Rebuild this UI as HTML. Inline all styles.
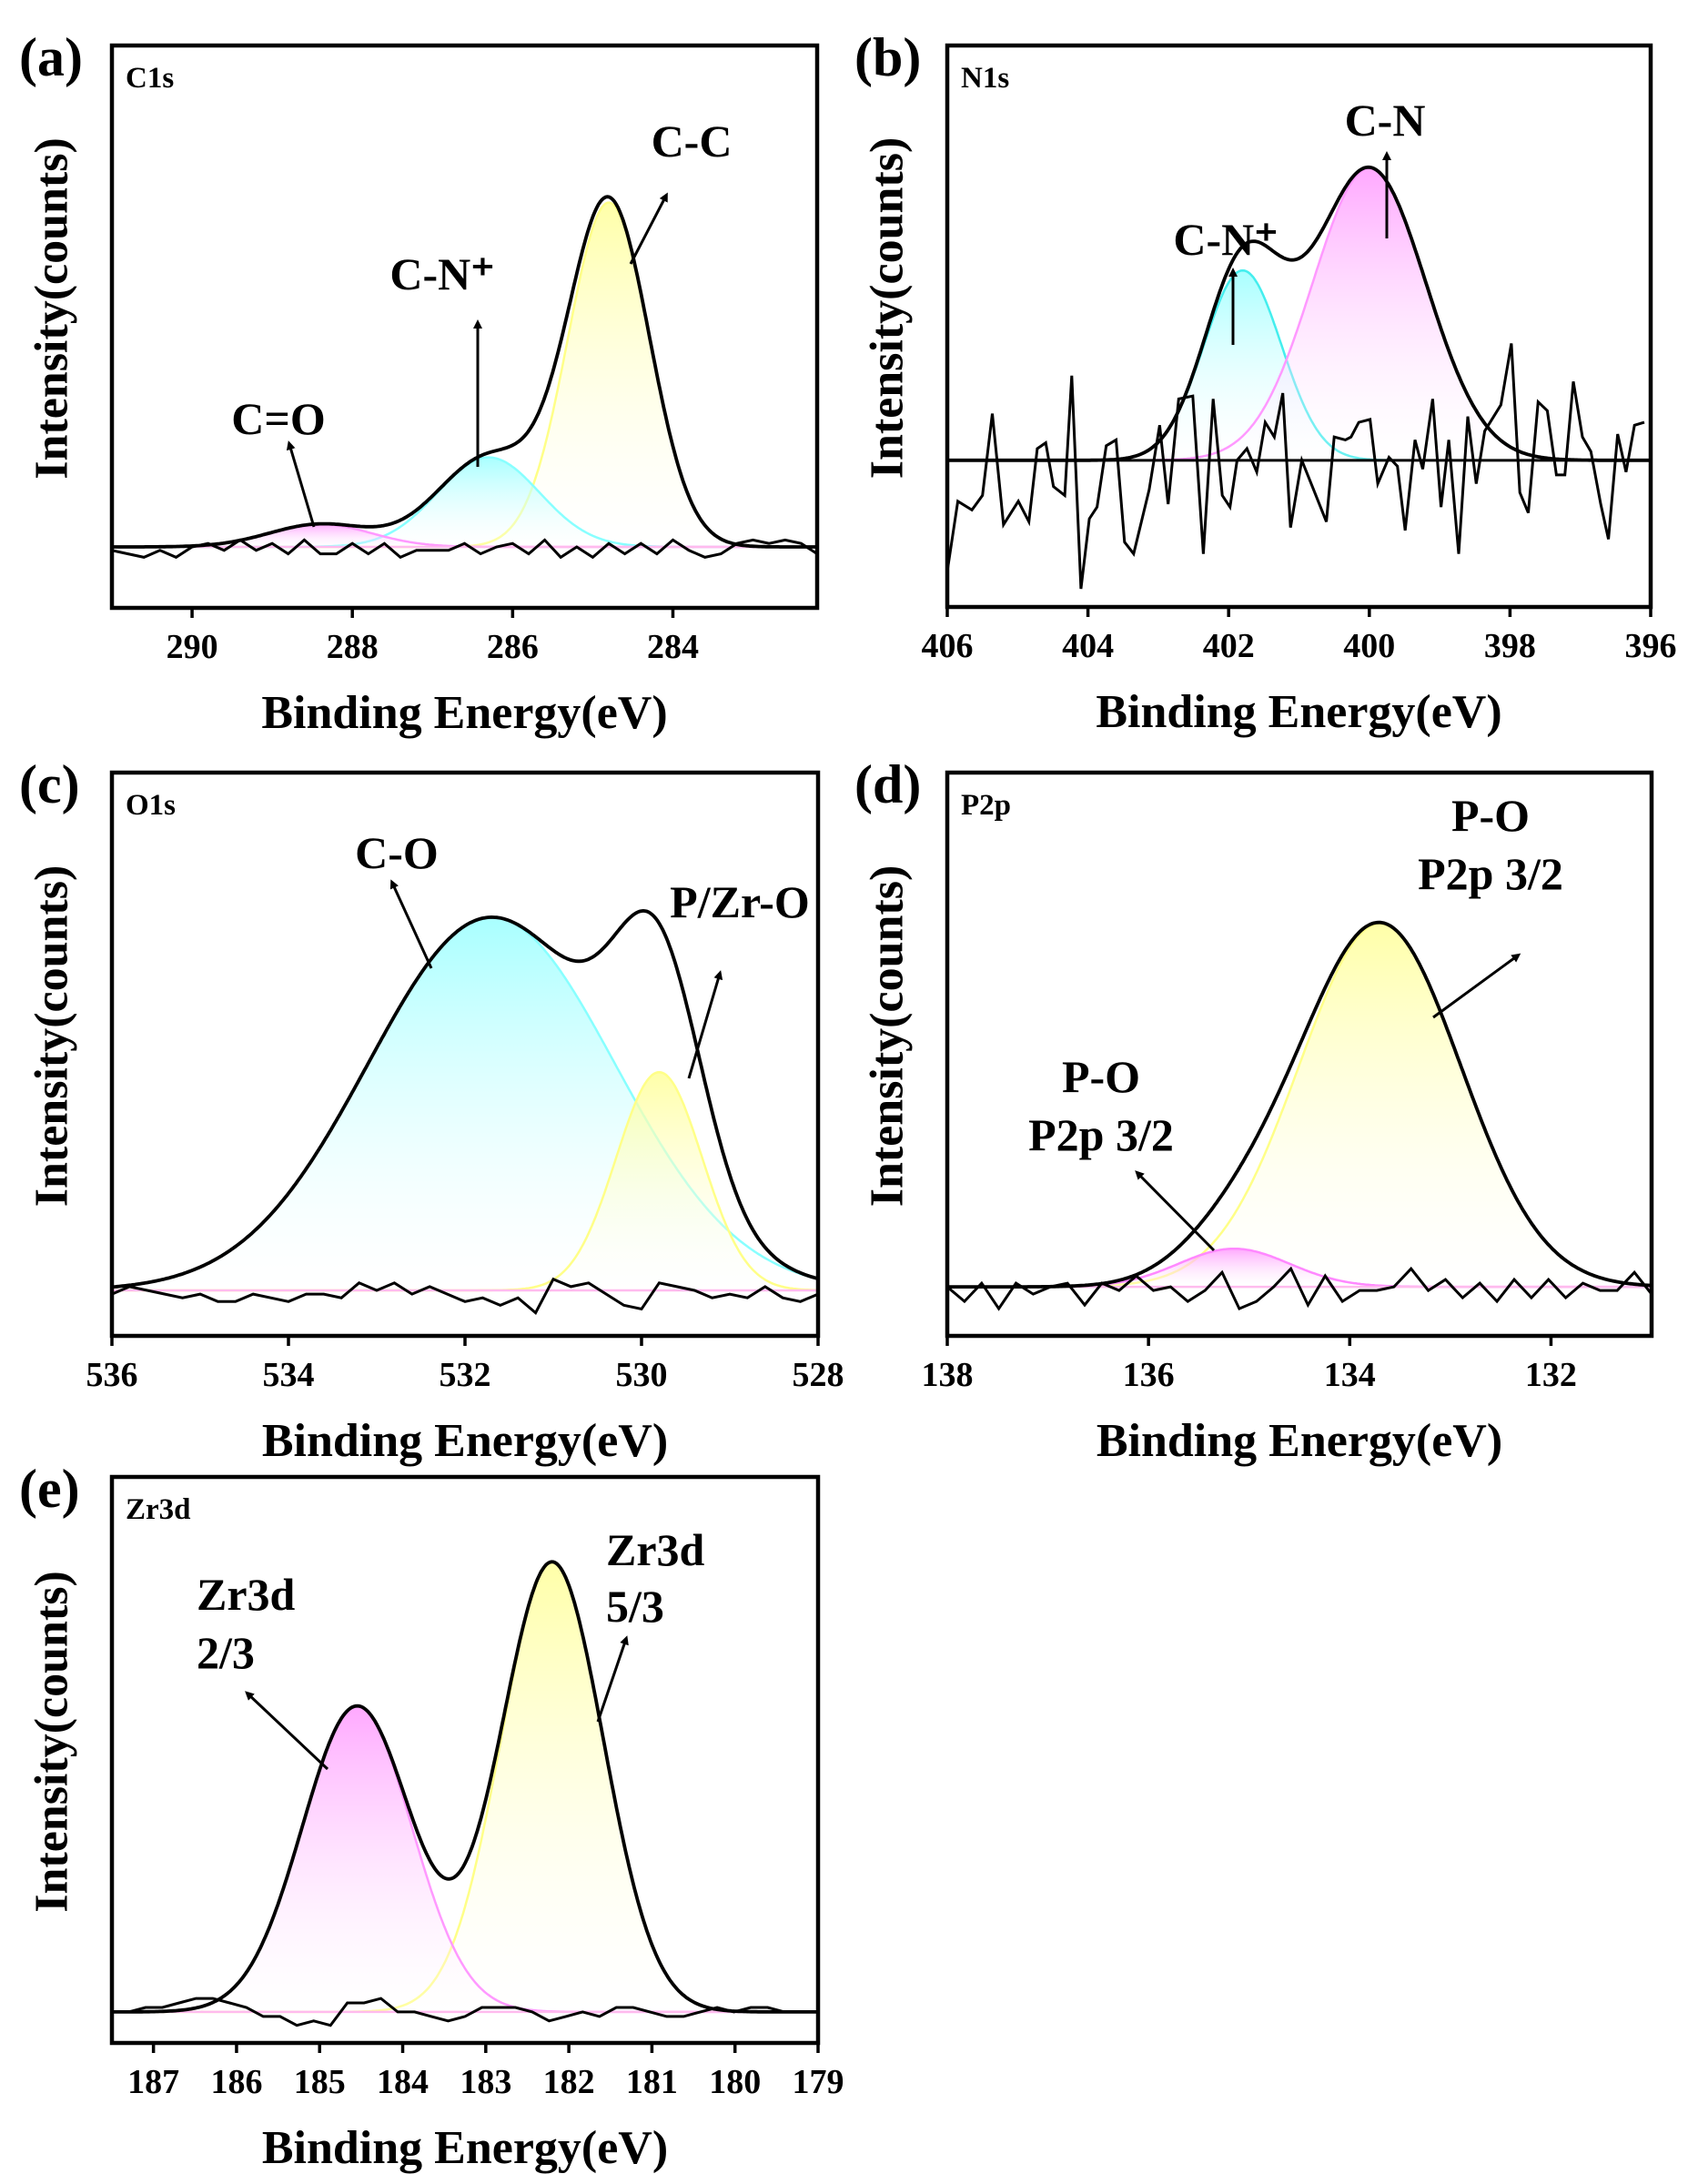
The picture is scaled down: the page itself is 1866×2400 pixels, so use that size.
<!DOCTYPE html>
<html><head><meta charset="utf-8">
<style>
html,body{margin:0;padding:0;background:#fff;}
svg{display:block;}
text{font-family:"Liberation Serif",serif;font-weight:bold;fill:#000;}
</style></head>
<body>
<svg id="fig" width="1866" height="2400" viewBox="0 0 1866 2400" xmlns="http://www.w3.org/2000/svg">
<defs>
  <marker id="arr" markerWidth="10" markerHeight="10" refX="6" refY="5" orient="auto" markerUnits="userSpaceOnUse">
    <path d="M0,0 L10,5 L0,10 Z" fill="#000"/>
  </marker>
  <linearGradient id="gY" x1="0" y1="0" x2="0" y2="1"><stop offset="0" stop-color="#ffff99" stop-opacity="0.85"/><stop offset="1" stop-color="#ffffff" stop-opacity="0.2"/></linearGradient>
  <linearGradient id="gC" x1="0" y1="0" x2="0" y2="1"><stop offset="0" stop-color="#99ffff" stop-opacity="0.85"/><stop offset="1" stop-color="#ffffff" stop-opacity="0.2"/></linearGradient>
  <linearGradient id="gP" x1="0" y1="0" x2="0" y2="1"><stop offset="0" stop-color="#ff99ff" stop-opacity="0.85"/><stop offset="1" stop-color="#ffffff" stop-opacity="0.2"/></linearGradient>
</defs>
<g id="root"></g>
</svg>
<script>
// ---------- data ----------
// (a) C1s
const aCenters = [284.8, 286.3, 288.4];
const aHeights = [100, 26, 6.6];
const aFwhm = [1.2, 1.5, 1.5];
const aTicks = [290, 288, 286, 284];
const aResidual = [-1,-2,-3,-1,-3,0,1,-1,2,-1,1,-2,2,-2,-2,1,-2,1,-3,-1,-1,-1,1,-2,0,1,-2,2,-3,0,-3,1,-2,1,-2,2,-1,-3,-2,1,2,1,2,1,-2];
// (b) N1s
const bCenters = [401.8, 400.0];
const bHeights = [65, 100];
const bFwhm = [1.3, 1.9];
const bTicks = [406, 404, 402, 400, 398, 396];
const bResidualX = [406.0,405.85,405.65,405.5,405.36,405.2,404.99,404.84,404.72,404.6,404.49,404.33,404.23,404.1,403.98,403.87,403.74,403.6,403.48,403.35,403.13,402.98,402.86,402.71,402.51,402.36,402.22,402.09,401.98,401.88,401.74,401.6,401.48,401.35,401.23,401.12,400.96,400.81,400.61,400.5,400.34,400.26,400.15,399.99,399.88,399.72,399.6,399.49,399.35,399.24,399.1,398.98,398.87,398.73,398.6,398.48,398.36,398.13,397.98,397.86,397.74,397.6,397.47,397.34,397.22,397.1,396.97,396.85,396.71,396.6,396.47,396.35,396.23,396.09];
const bResidual = [-38,-14,-17,-12,16,-22,-14,-21,4,6,-9,-12,29,-44,-20,-16,5,7,-28,-32,-10,12,-15,21,22,-32,21,-12,-16,0,4,-4,13,8,23,-23,0,-9,-21,8,7,8,13,14,-8,1,-2,-24,7,-3,21,-16,7,-32,15,-8,10,19,40,-11,-18,20,17,-5,-5,27,8,3,-15,-27,9,-4,12,13];
// (c) O1s
const cCenters = [531.7, 529.8];
const cHeights = [100, 58.5];
const cFwhm = [3.3, 1.15];
const cTicks = [536, 534, 532, 530, 528];
const cResidual = [-1,1,0,-1,-2,-1,-3,-3,-1,-2,-3,-1,-1,-2,2,0,2,-1,1,-1,-3,-2,-4,-2,-6,3,1,2,-1,-4,-5,2,1,0,-2,-1,-2,1,-2,-3,-1];
// (d) P2p
const dCenters = [133.7, 135.15];
const dHeights = [100, 10.5];
const dFwhm = [1.9, 1.3];
const dTicks = [138, 136, 134, 132];
const dResidual = [0,-4,1,-6,1,-2,0,1,-5,1,-1,3,-1,0,-4,-1,4,-6,-4,0,5,-5,3,-4,-1,-1,0,5,-1,2,-3,1,-4,2,-3,2,-3,1,-1,-1,4,-2];
// (e) Zr3d
const eCenters = [182.2, 184.55];
const eHeights = [100, 68];
const eFwhm = [1.45, 1.55];
const eTicks = [187, 186, 185, 184, 183, 182, 181, 180, 179];
const eResidual = [0,0,1,1,2,3,3,2,1,-1,-1,-3,-2,-3,2,2,3,0,0,-1,-2,-1,1,1,1,0,-2,-1,0,-1,1,1,0,-1,-1,0,1,0,1,1,0,0,0];

// ---------- drawing ----------
const NS = 'http://www.w3.org/2000/svg';
const root = document.getElementById('root');
function mk(tag, attrs, parent){
  const e = document.createElementNS(NS, tag);
  for (const k in attrs) e.setAttribute(k, attrs[k]);
  (parent||root).appendChild(e);
  return e;
}
function txt(parent, x, y, s, size, anchor){
  const t = mk('text', {x:x, y:y, 'font-size':size, 'text-anchor':anchor||'start'}, parent);
  t.textContent = s;
  return t;
}
function gauss(x, c, h, w){ return h*Math.exp(-4*Math.LN2*Math.pow((x-c)/w,2)); }

const panels = [
  {id:'a', label:'(a)', core:'C1s', x0:123,x1:898,y0:50,y1:668, dom:[291,282.2], yd:[-17.7,145.6],
   centers:aCenters, heights:aHeights, fwhm:aFwhm, ticks:aTicks, res:aResidual, resX:null,
   cols:[['#ffff88','url(#gY)'],['#88ffff','url(#gC)'],['#ff99ff','url(#gP)']], baseBlack:false},
  {id:'b', label:'(b)', core:'N1s', x0:1041,x1:1814,y0:50,y1:667, dom:[406,396], yd:[-50.2,142],
   centers:bCenters, heights:bHeights, fwhm:bFwhm, ticks:bTicks, res:bResidual, resX:bResidualX,
   cols:[['#44eeee','url(#gC)'],['#ff99ff','url(#gP)']], baseBlack:true},
  {id:'c', label:'(c)', core:'O1s', x0:123,x1:899,y0:849,y1:1468, dom:[536,528], yd:[-12.2,138.8],
   centers:cCenters, heights:cHeights, fwhm:cFwhm, ticks:cTicks, res:cResidual, resX:null,
   cols:[['#88ffff','url(#gC)'],['#ffff88','url(#gY)']], baseBlack:false},
  {id:'d', label:'(d)', core:'P2p', x0:1041,x1:1815,y0:849,y1:1468, dom:[138,131], yd:[-13.5,141.6],
   centers:dCenters, heights:dHeights, fwhm:dFwhm, ticks:dTicks, res:dResidual, resX:null,
   cols:[['#ffff88','url(#gY)'],['#ff88ff','url(#gP)']], baseBlack:false},
  {id:'e', label:'(e)', core:'Zr3d', x0:123,x1:899,y0:1623,y1:2245, dom:[187.5,179], yd:[-6.9,119],
   centers:eCenters, heights:eHeights, fwhm:eFwhm, ticks:eTicks, res:eResidual, resX:null,
   cols:[['#ffff88','url(#gY)'],['#ff99ff','url(#gP)']], baseBlack:false}
];

panels.forEach(p => {
  const g = mk('g', {});
  
  
  const X = v => p.x0 + (v - p.dom[0])/(p.dom[1]-p.dom[0])*(p.x1-p.x0);
  const Y = v => p.y1 - (v - p.yd[0])/(p.yd[1]-p.yd[0])*(p.y1-p.y0);
  const clip = mk('clipPath', {id:'clip'+p.id}, g);
  mk('rect', {x:p.x0, y:p.y0, width:p.x1-p.x0, height:p.y1-p.y0}, clip);
  const plot = mk('g', {'clip-path':'url(#clip'+p.id+')'}, g);
  const N = 400;
  const xs = [];
  for (let i=0;i<=N;i++) xs.push(p.dom[0] + (p.dom[1]-p.dom[0])*i/N);
  p.centers.forEach((c, k) => {
    let d = 'M' + X(xs[0]) + ',' + Y(0);
    xs.forEach(x => { d += ' L' + X(x).toFixed(1) + ',' + Y(gauss(x, c, p.heights[k], p.fwhm[k])).toFixed(1); });
    d += ' L' + X(xs[N]) + ',' + Y(0) + ' Z';
    const fill = mk('path', {d:d, fill:p.cols[k][1], stroke:'none'}, plot);
    
    
    let l = '';
    xs.forEach((x,i) => { l += (i?' L':'M') + X(x).toFixed(1) + ',' + Y(gauss(x, c, p.heights[k], p.fwhm[k])).toFixed(1); });
    const line = mk('path', {d:l, fill:'none', stroke:p.cols[k][0], 'stroke-width':2.5}, plot);
    
    
  });
  const bl = mk('line', {x1:p.x0, x2:p.x1, y1:Y(0), y2:Y(0), stroke:p.baseBlack?'#000':'#ffbbee', 'stroke-width':p.baseBlack?3:2.5}, plot);
  
  
  let r = '';
  p.res.forEach((v,i) => {
    const xv = p.resX ? p.resX[i] : p.dom[0] + (p.dom[1]-p.dom[0])*i/(p.res.length-1);
    r += (i?' L':'M') + X(xv).toFixed(1) + ',' + Y(v).toFixed(1);
  });
  const rl = mk('path', {d:r, fill:'none', stroke:'#000', 'stroke-width':3, 'stroke-linejoin':'miter'}, plot);
  
  
  let e = '';
  xs.forEach((x,i) => {
    let s = 0; p.centers.forEach((c,k) => { s += gauss(x, c, p.heights[k], p.fwhm[k]); });
    e += (i?' L':'M') + X(x).toFixed(1) + ',' + Y(s).toFixed(1);
  });
  const el = mk('path', {d:e, fill:'none', stroke:'#000', 'stroke-width':3.8}, plot);
  
  
  const fr = mk('rect', {x:p.x0, y:p.y0, width:p.x1-p.x0, height:p.y1-p.y0, fill:'none', stroke:'#000', 'stroke-width':4.5}, g);
  
  
  p.ticks.forEach(t => {
    const tk = mk('line', {x1:X(t), x2:X(t), y1:p.y1, y2:p.y1+11, stroke:'#000', 'stroke-width':3.5}, g);
    
    
    const tl = txt(g, X(t), p.y1+55, String(t), 38, 'middle');
    
    
  });
  const mx = (p.x0+p.x1)/2;
  const xt = txt(g, mx, p.y1+132, 'Binding Energy(eV)', 52, 'middle');
  
  
  const yx = p.x0 - 66, yy = (p.y0+p.y1)/2 - 20;
  const yt = mk('text', {x:yx, y:yy, 'font-size':52, 'text-anchor':'middle', 'dominant-baseline':'central', transform:'rotate(-90 '+yx+' '+yy+')'}, g);
  yt.textContent = 'Intensity(counts)';
  
  
  const pl = txt(g, p.x0 - 102, p.y0 + 33, p.label, 60, 'start');
  
  
  const cl = txt(g, p.x0 + 15, p.y0 + 46, p.core, 33, 'start');
  
  
});

const annotations = [
  {n:'c-c', lines:['C-C'], x:760, y:172, ax:[693,290,732,215]},
  {n:'c-n-plus-a', lines:['C-N⁺'], x:486, y:318, ax:[525,513,525,355]},
  {n:'c-o-double', lines:['C=O'], x:306, y:477, ax:[345,579,318,488]},
  {n:'c-n', lines:['C-N'], x:1522, y:149, ax:[1524,262,1524,170]},
  {n:'c-n-plus-b', lines:['C-N⁺'], x:1347, y:280, ax:[1355,379,1355,298]},
  {n:'c-o', lines:['C-O'], x:436, y:954, ax:[474,1064,431,970]},
  {n:'p-zr-o', lines:['P/Zr-O'], x:813, y:1008, ax:[757,1185,791,1070]},
  {n:'p-o-main', lines:['P-O','P2p 3/2'], x:1638, y:913, dy:64, ax:[1575,1118,1668,1050]},
  {n:'p-o-small', lines:['P-O','P2p 3/2'], x:1210, y:1200, dy:64, ax:[1334,1374,1250,1289]},
  {n:'zr3d-53', lines:['Zr3d','5/3'], x:666, y:1720, dy:62, ax:[657,1892,688,1801], left:true},
  {n:'zr3d-23', lines:['Zr3d','2/3'], x:216, y:1769, dy:64, ax:[360,1944,272,1861], left:true}
];
annotations.forEach(a => {
  a.lines.forEach((s,i) => {
    const t = txt(root, a.x, a.y + i*(a.dy||0), s, 50, a.left?'start':'middle');
    
    
  });
  const ln = mk('line', {x1:a.ax[0], y1:a.ax[1], x2:a.ax[2], y2:a.ax[3], stroke:'#000', 'stroke-width':3, 'marker-end':'url(#arr)'});
  
  
});
</script>
</body></html>
